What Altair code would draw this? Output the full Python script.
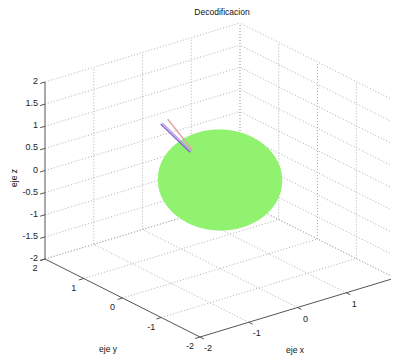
import numpy as np
import pandas as pd
import altair as alt

# ---- data ----
x_ticks = [-2, -1, 0, 1, 2]
y_ticks = [-2, -1, 0, 1, 2]
z_ticks = [-2, -1.5, -1, -0.5, 0, 0.5, 1, 1.5, 2]
x_labels = ["-2", "-1", "0", "1", ""]  # the "2" label falls outside the picture
y_labels = ["-2", "-1", "0", "1", "2"]
z_labels = ["-2", "-1.5", "-1", "-0.5", "0", "0.5", "1", "1.5", "2"]
sphere_radius = 1.0
# vectors (3D start / end points)
vec_names = ["lavender", "purple", "pink"]
vec_start = [(-0.585, 0.0, 0.844), (-0.615, 0.0, 0.831), (-0.568, 0.0, 0.867)]
vec_end = [(-1.186, 0.0, 1.683), (-1.216, 0.0, 1.671), (-1.073, 0.0, 1.729)]
vec_colors = ["#b8a2ea", "#8a62d0", "#e6a4a4"]
vec_widths = [1.3, 1.5, 1.0]

# ---- view (orthographic projection, MATLAB default-like) ----
CX, CY = 220.0, 180.0
EX = np.array([48.75, -14.75])
EY = np.array([-38.75, -19.5])
EZ = np.array([0.0, -44.25])


def proj(x, y, z):
    p = np.array([CX, CY]) + x * EX + y * EY + z * EZ
    return float(p[0]), float(p[1])


lo, hi = -2, 2


def add_seg(rows, sid, a, b):
    pa = proj(*a)
    pb = proj(*b)
    rows.append({"id": sid, "o": 0, "px": pa[0], "py": pa[1]})
    rows.append({"id": sid, "o": 1, "px": pb[0], "py": pb[1]})


grid = []
k = 0
# wall y = 2
for xv in x_ticks[1:]:
    add_seg(grid, k, (xv, hi, lo), (xv, hi, hi)); k += 1
for zv in z_ticks:
    add_seg(grid, k, (lo, hi, zv), (hi, hi, zv)); k += 1
# wall x = 2
for yv in y_ticks:
    add_seg(grid, k, (hi, yv, lo), (hi, yv, hi)); k += 1
for zv in z_ticks:
    add_seg(grid, k, (hi, lo, zv), (hi, hi, zv)); k += 1
# floor z = -2
for xv in x_ticks[1:]:
    add_seg(grid, k, (xv, lo, lo), (xv, hi, lo)); k += 1
for yv in y_ticks[1:]:
    add_seg(grid, k, (lo, yv, lo), (hi, yv, lo)); k += 1
grid_df = pd.DataFrame(grid)

axes = []
k = 0
add_seg(axes, k, (lo, hi, lo), (lo, hi, hi)); k += 1  # z axis
add_seg(axes, k, (lo, lo, lo), (lo, hi, lo)); k += 1  # y axis
add_seg(axes, k, (lo, lo, lo), (hi, lo, lo)); k += 1  # x axis
tl = 0.1
for zv in z_ticks:
    add_seg(axes, k, (lo, hi, zv), (lo - tl, hi, zv)); k += 1
for yv in y_ticks:
    add_seg(axes, k, (lo, yv, lo), (lo - tl, yv, lo)); k += 1
for xv in x_ticks:
    add_seg(axes, k, (xv, lo, lo), (xv, lo - tl, lo)); k += 1
axes_df = pd.DataFrame(axes)

# sphere silhouette (projected outline of the sphere)
M = np.stack([EX, EY, EZ], axis=1) * sphere_radius
A = M @ M.T
Q = np.linalg.inv(A)
xm = np.sqrt(A[0, 0])
xs = np.linspace(-xm, xm, 241)
rows = []
for xv in xs:
    a = Q[1, 1]
    b = 2 * Q[0, 1] * xv
    c = Q[0, 0] * xv * xv - 1
    disc = max(b * b - 4 * a * c, 0.0)
    y1 = (-b - np.sqrt(disc)) / (2 * a)
    y2 = (-b + np.sqrt(disc)) / (2 * a)
    rows.append({"px": CX + xv, "py": CY + y1, "py2": CY + y2})
sphere_df = pd.DataFrame(rows)

vec_rows = []
for i, n in enumerate(vec_names):
    pa = proj(*vec_start[i]); pb = proj(*vec_end[i])
    vec_rows.append({"name": n, "o": 0, "px": pa[0], "py": pa[1]})
    vec_rows.append({"name": n, "o": 1, "px": pb[0], "py": pb[1]})
vec_df = pd.DataFrame(vec_rows)

# tick labels
lab = []
for zv, t in zip(z_ticks, z_labels):
    p = proj(lo, hi, zv)
    lab.append({"px": p[0] - 7, "py": p[1] - 1, "t": t, "al": "right"})
for yv, t in zip(y_ticks, y_labels):
    p = proj(lo, yv, lo)
    lab.append({"px": p[0] - 10, "py": p[1] + 9, "t": t, "al": "center"})
for xv, t in zip(x_ticks, x_labels):
    if t:
        p = proj(xv, lo, lo)
        lab.append({"px": p[0] + 8, "py": p[1] + 11, "t": t, "al": "center"})
lab_df = pd.DataFrame(lab)

W, H = 383, 348
xs_ = alt.Scale(domain=[8, 8 + W], nice=False, zero=False)
ys_ = alt.Scale(domain=[8, 8 + H], nice=False, zero=False, reverse=True)
X = alt.X("px:Q", scale=xs_, axis=None)
Y = alt.Y("py:Q", scale=ys_, axis=None)

grid_layer = alt.Chart(grid_df).mark_line(
    color="#b0b0b0", strokeWidth=1, strokeDash=[1, 2]
).encode(x=X, y=Y, detail="id:N", order="o:Q")

axes_layer = alt.Chart(axes_df).mark_line(color="#555555", strokeWidth=1).encode(
    x=X, y=Y, detail="id:N", order="o:Q"
)

sphere_layer = alt.Chart(sphere_df).mark_area(color="#90f26f", opacity=1).encode(
    x=X, y=Y, y2="py2:Q"
)

vec_layer = alt.Chart(vec_df).mark_line().encode(
    x=X, y=Y, order="o:Q",
    color=alt.Color("name:N", scale=alt.Scale(domain=vec_names, range=vec_colors), legend=None),
    strokeWidth=alt.StrokeWidth("name:N", scale=alt.Scale(domain=vec_names, range=vec_widths), legend=None),
)

lab_right = alt.Chart(lab_df[lab_df.al == "right"]).mark_text(
    align="right", baseline="middle", font="Liberation Sans", fontSize=9, color="#222222"
).encode(x=X, y=Y, text="t:N")
lab_center = alt.Chart(lab_df[lab_df.al == "center"]).mark_text(
    align="center", baseline="middle", font="Liberation Sans", fontSize=9, color="#222222"
).encode(x=X, y=Y, text="t:N")

titles_df = pd.DataFrame([
    {"px": 222, "py": 12, "t": "Decodificacion"},
    {"px": 108, "py": 349, "t": "eje y"},
    {"px": 295, "py": 350, "t": "eje x"},
])
title_layer = alt.Chart(titles_df).mark_text(
    align="center", baseline="middle", font="Liberation Sans", fontSize=8.5, color="#111111"
).encode(x=X, y=Y, text="t:N")
zlab_layer = alt.Chart(pd.DataFrame([{"px": 14, "py": 178, "t": "eje z"}])).mark_text(
    align="center", baseline="middle", font="Liberation Sans", fontSize=8.5, angle=270, color="#111111"
).encode(x=X, y=Y, text="t:N")

chart = alt.layer(
    grid_layer, axes_layer, sphere_layer, vec_layer, lab_right, lab_center, title_layer, zlab_layer
).properties(width=W, height=H, padding=0, autosize="none").configure_view(stroke=None)

chart.save("out.html", embed_options={"renderer": "svg", "actions": False})
